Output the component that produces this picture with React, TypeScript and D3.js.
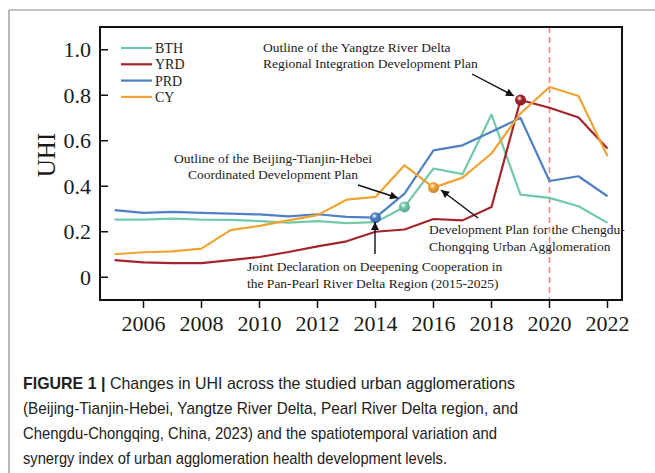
import React from "react";
import * as d3 from "d3";

const years = [2005, 2006, 2007, 2008, 2009, 2010, 2011, 2012, 2013, 2014, 2015, 2016, 2017, 2018, 2019, 2020, 2021, 2022];
const BTH = [0.253, 0.253, 0.258, 0.253, 0.252, 0.247, 0.240, 0.247, 0.238, 0.242, 0.309, 0.478, 0.453, 0.715, 0.363, 0.349, 0.312, 0.239];
const YRD = [0.075, 0.065, 0.062, 0.062, 0.075, 0.089, 0.111, 0.136, 0.158, 0.200, 0.210, 0.256, 0.250, 0.309, 0.779, 0.745, 0.702, 0.566];
const PRD = [0.295, 0.283, 0.287, 0.283, 0.280, 0.276, 0.268, 0.277, 0.265, 0.262, 0.368, 0.558, 0.580, 0.640, 0.700, 0.423, 0.444, 0.356];
const CY = [0.101, 0.110, 0.114, 0.126, 0.207, 0.226, 0.250, 0.273, 0.341, 0.353, 0.492, 0.394, 0.438, 0.544, 0.720, 0.836, 0.797, 0.532];
const seriesNames = ["BTH", "YRD", "PRD", "CY"];
const seriesValues = [BTH, YRD, PRD, CY];
const seriesColors = ["#72c9a8", "#a3252b", "#4f80c4", "#eea332"];
const xTicks = [2006, 2008, 2010, 2012, 2014, 2016, 2018, 2020, 2022];
const yTicks = [0, 0.2, 0.4, 0.6, 0.8, 1.0];
const yTickLabels = ["0", "0.2", "0.4", "0.6", "0.8", "1.0"];
const markers = [
  { series: 2, year: 2014 },
  { series: 0, year: 2015 },
  { series: 3, year: 2016 },
  { series: 1, year: 2019 },
];
const captionLines = [
  "Changes in UHI across the studied urban agglomerations",
  "(Beijing-Tianjin-Hebei, Yangtze River Delta, Pearl River Delta region, and",
  "Chengdu-Chongqing, China, 2023) and the spatiotemporal variation and",
  "synergy index of urban agglomeration health development levels.",
];
const captionWidths = [492, 495, 474, 424];

const L = 100, R = 622, T = 27, B = 300;

export default function App() {
  const x = d3.scaleLinear().domain([2004.5, 2022.5]).range([L, R]);
  const y = d3.scaleLinear().domain([-0.1, 1.1]).range([B, T]);
  const line = d3.line<number>().x((_, i) => x(years[i])).y((d) => y(d));
  const serif = "'Liberation Serif', 'Times New Roman', serif";
  const sans = "'Liberation Sans', Arial, sans-serif";

  const arrows = [
    { x1: 472, y1: 74, x2: 514, y2: 96 },
    { x1: 358, y1: 185, x2: 398, y2: 198 },
    { x1: 478, y1: 218, x2: 441, y2: 190 },
    { x1: 375, y1: 254, x2: 375, y2: 222 },
  ];

  return (
    <svg width={655} height={473} style={{ position: "absolute", left: 0, top: 0, background: "#fff" }}>
      <defs>
        {seriesColors.map((c, i) => (
          <radialGradient key={i} id={`g${i}`} cx="0.4" cy="0.35" r="0.7">
            <stop offset="0" stopColor="#ffffff" stopOpacity={0.9} />
            <stop offset="0.35" stopColor={c} />
            <stop offset="1" stopColor={d3.color(c)!.darker(0.6).toString()} />
          </radialGradient>
        ))}
        <marker id="ah" viewBox="0 0 10 10" refX="10" refY="5" markerWidth="10" markerHeight="8" markerUnits="userSpaceOnUse" orient="auto">
          <path d="M0,0 L10,5 L0,10 z" fill="#111" />
        </marker>
      </defs>
      {/* outer frame */}
      <line x1={9} y1={10} x2={655} y2={10} stroke="#8a8a8a" strokeWidth={1.2} />
      <line x1={9} y1={10} x2={9} y2={473} stroke="#8a8a8a" strokeWidth={1.2} />

      {/* 2020 dashed line */}
      <line x1={x(2020)} x2={x(2020)} y1={T} y2={B} stroke="#f08585" strokeWidth={1.6} strokeDasharray="6,4" />

      {/* series */}
      {seriesValues.map((vals, i) => (
        <path key={i} d={line(vals)!} fill="none" stroke={seriesColors[i]} strokeWidth={2.2} strokeLinejoin="round" />
      ))}
      {markers.map((m, i) => {
        const idx = years.indexOf(m.year);
        return <circle key={i} cx={x(m.year)} cy={y(seriesValues[m.series][idx])} r={5.5} fill={`url(#g${m.series})`} />;
      })}

      {/* frame */}
      <rect x={L} y={T} width={R - L} height={B - T} fill="none" stroke="#111" strokeWidth={2} />

      {/* y ticks */}
      {yTicks.map((t, i) => (
        <g key={i}>
          <line x1={L} x2={L + 8} y1={y(t)} y2={y(t)} stroke="#111" strokeWidth={1.5} />
          <text x={L - 9} y={y(t)} dy="0.35em" textAnchor="end" fontFamily={serif} fontSize={22} fill="#1a1a1a">{yTickLabels[i]}</text>
        </g>
      ))}
      {/* x ticks */}
      {xTicks.map((t) => (
        <g key={t}>
          <line x1={x(t)} x2={x(t)} y1={B} y2={B + 8} stroke="#111" strokeWidth={1.5} />
          <text x={x(t)} y={B + 31} textAnchor="middle" fontFamily={serif} fontSize={22} fill="#1a1a1a">{t}</text>
        </g>
      ))}
      <text transform="translate(55,155) rotate(-90)" textAnchor="middle" fontFamily={serif} fontSize={25} fill="#1a1a1a">UHI</text>

      {/* legend */}
      {seriesNames.map((n, i) => (
        <g key={n}>
          <line x1={121} x2={152} y1={48 + i * 16.3} y2={48 + i * 16.3} stroke={seriesColors[i]} strokeWidth={2.2} />
          <text x={155} y={48 + i * 16.3} dy="0.35em" fontFamily={serif} fontSize={14} fill="#222">{n}</text>
        </g>
      ))}

      {/* annotations */}
      <g fontFamily={serif} fontSize={13.5} fill="#222">
        <text x={263} y={52}>Outline of the Yangtze River Delta</text>
        <text x={263} y={68}>Regional Integration Development Plan</text>
        <text x={273} y={163} textAnchor="middle">Outline of the Beijing-Tianjin-Hebei</text>
        <text x={273} y={179} textAnchor="middle">Coordinated Development Plan</text>
        <text x={429} y={234}>Development Plan for the Chengdu-</text>
        <text x={429} y={251}>Chongqing Urban Agglomeration</text>
        <text x={247} y={271}>Joint Declaration on Deepening Cooperation in</text>
        <text x={247} y={288}>the Pan-Pearl River Delta Region (2015-2025)</text>
      </g>
      {arrows.map((a, i) => (
        <line key={i} x1={a.x1} y1={a.y1} x2={a.x2} y2={a.y2} stroke="#111" strokeWidth={1.4} markerEnd="url(#ah)" />
      ))}

      {/* caption */}
      <g fontFamily={sans} fontSize={17} fill="#222">
        <text x={23} y={389} textLength={captionWidths[0]} lengthAdjust="spacingAndGlyphs">
          <tspan fontWeight="bold">FIGURE 1 | </tspan>
          <tspan>{captionLines[0]}</tspan>
        </text>
        {captionLines.slice(1).map((c, i) => (
          <text key={i} x={23} y={414 + i * 25} textLength={captionWidths[i + 1]} lengthAdjust="spacingAndGlyphs">{c}</text>
        ))}
      </g>
    </svg>
  );
}
